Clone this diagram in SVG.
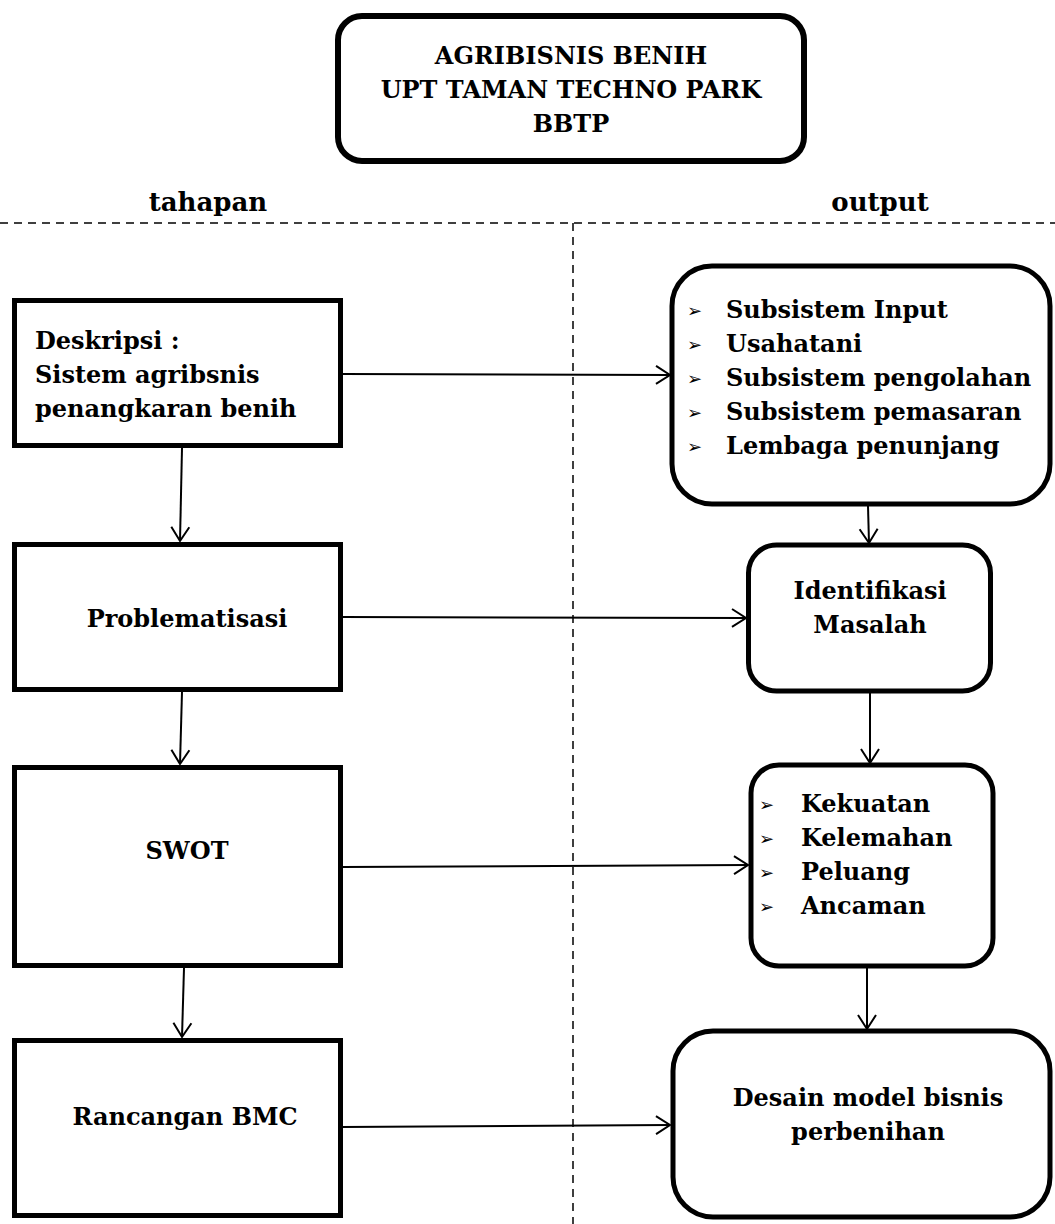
<svg xmlns="http://www.w3.org/2000/svg" width="1055" height="1224" viewBox="0 0 1055 1224">
<style>
.t{font-family:"DejaVu Serif","Liberation Serif",serif;font-weight:bold;font-size:24px;fill:#000}
.c{text-anchor:middle}
.h{font-size:26px}
.b{font-family:"DejaVu Sans",sans-serif;font-size:18px;fill:#000}
.box{fill:#fff;stroke:#000;stroke-width:5}
.top{fill:#fff;stroke:#000;stroke-width:6}
.con{fill:none;stroke:#000;stroke-width:2}
.dash{fill:none;stroke:#000;stroke-width:1.5;stroke-dasharray:8 6}
</style>
<defs>
<marker id="arr" markerUnits="userSpaceOnUse" viewBox="-16 -11 18 22" refX="0" refY="0" markerWidth="18" markerHeight="22" orient="auto">
<path d="M-14,-9 L0,0 L-14,9" fill="none" stroke="#000" stroke-width="2"/>
</marker>
</defs>
<rect width="1055" height="1224" fill="#fff"/>

<g id="title">
<rect class="top" x="338" y="16" width="466" height="145" rx="24"/>
<text class="t c" x="571" y="64">AGRIBISNIS BENIH</text>
<text class="t c" x="571" y="98">UPT TAMAN TECHNO PARK</text>
<text class="t c" x="571" y="132">BBTP</text>
</g>

<g id="headers">
<text class="t h c" x="208" y="211">tahapan</text>
<text class="t h c" x="880" y="211">output</text>
<line class="dash" x1="0" y1="223" x2="1055" y2="223"/>
<line class="dash" x1="573" y1="223" x2="573" y2="1224"/>
</g>

<g id="connectors">
<line class="con" x1="343" y1="374" x2="670" y2="375" marker-end="url(#arr)"/>
<line class="con" x1="342" y1="617" x2="746" y2="618" marker-end="url(#arr)"/>
<line class="con" x1="342" y1="867" x2="748" y2="865" marker-end="url(#arr)"/>
<line class="con" x1="342" y1="1127" x2="670" y2="1125" marker-end="url(#arr)"/>
<line class="con" x1="182" y1="448" x2="180" y2="541" marker-end="url(#arr)"/>
<line class="con" x1="182" y1="692" x2="180" y2="764" marker-end="url(#arr)"/>
<line class="con" x1="184" y1="968" x2="182" y2="1037" marker-end="url(#arr)"/>
<line class="con" x1="868" y1="506" x2="869" y2="543" marker-end="url(#arr)"/>
<line class="con" x1="870" y1="693" x2="870" y2="763" marker-end="url(#arr)"/>
<line class="con" x1="867" y1="967" x2="867" y2="1029" marker-end="url(#arr)"/>
</g>

<g id="deskripsi">
<rect class="box" x="14.5" y="300.5" width="326" height="145"/>
<text class="t" x="35" y="349">Deskripsi :</text>
<text class="t" x="35" y="383">Sistem agribsnis</text>
<text class="t" x="35" y="417">penangkaran benih</text>
</g>

<g id="problematisasi">
<rect class="box" x="14.5" y="544.5" width="326" height="145"/>
<text class="t c" x="187" y="627">Problematisasi</text>
</g>

<g id="swot">
<rect class="box" x="14.5" y="767.5" width="326" height="198"/>
<text class="t c" x="187" y="859">SWOT</text>
</g>

<g id="bmc">
<rect class="box" x="14.5" y="1040.5" width="326" height="175"/>
<text class="t c" x="185" y="1125">Rancangan BMC</text>
</g>

<g id="subsistem">
<rect class="box" x="672" y="266" width="378" height="238" rx="40"/>
<text class="b" x="687" y="317">➢</text>
<text class="b" x="687" y="351">➢</text>
<text class="b" x="687" y="385">➢</text>
<text class="b" x="687" y="419">➢</text>
<text class="b" x="687" y="453">➢</text>
<text class="t" x="726" y="318">Subsistem Input</text>
<text class="t" x="726" y="352">Usahatani</text>
<text class="t" x="726" y="386">Subsistem pengolahan</text>
<text class="t" x="726" y="420">Subsistem pemasaran</text>
<text class="t" x="726" y="454">Lembaga penunjang</text>
</g>

<g id="identifikasi">
<rect class="box" x="748.5" y="545" width="242" height="146" rx="28"/>
<text class="t c" x="870" y="599">Identifikasi</text>
<text class="t c" x="870" y="633">Masalah</text>
</g>

<g id="kekuatan">
<rect class="box" x="751" y="765" width="242" height="201" rx="28"/>
<text class="b" x="759" y="811">➢</text>
<text class="b" x="759" y="845">➢</text>
<text class="b" x="759" y="879">➢</text>
<text class="b" x="759" y="913">➢</text>
<text class="t" x="801" y="812">Kekuatan</text>
<text class="t" x="801" y="846">Kelemahan</text>
<text class="t" x="801" y="880">Peluang</text>
<text class="t" x="801" y="914">Ancaman</text>
</g>

<g id="desain">
<rect class="box" x="673" y="1031" width="377" height="186" rx="40"/>
<text class="t c" x="868" y="1106">Desain model bisnis</text>
<text class="t c" x="868" y="1140">perbenihan</text>
</g>
</svg>
